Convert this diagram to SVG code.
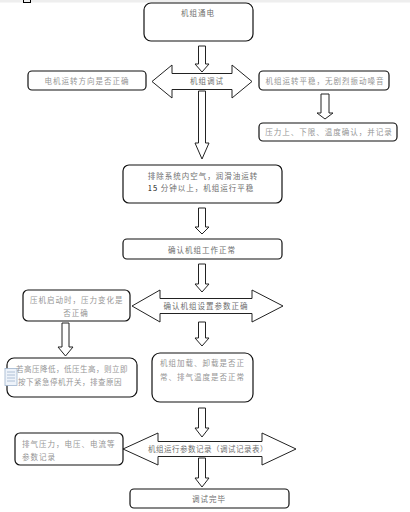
<svg xmlns="http://www.w3.org/2000/svg" width="410" height="512" viewBox="0 0 410 512">
<style>
.box{fill:#fff;stroke:#111;stroke-width:1.2}
.arr{fill:#fff;stroke:#222;stroke-width:1}
text{font-family:"Noto Sans CJK SC","Liberation Sans",sans-serif;font-size:7.5px;letter-spacing:1px}
.c{fill:#6e6e6e;text-anchor:middle}
.s{fill:#959595}
.sm{fill:#959595;text-anchor:middle}
.t{letter-spacing:0.5px}
</style>
<rect x="0" y="0" width="410" height="2.5" fill="#eeeeee"/>
<rect x="23.5" y="-1" width="7" height="3.5" fill="none" stroke="#000" stroke-width="1"/>
<g id="connectors">
<path class="arr" d="M198.5,46 H205.5 V64 H209 L202,72 L195,64 H198.5 Z"/>
<path class="arr" d="M198.5,91 H205.5 V143 H209 L202,159 L195,143 H198.5 Z"/>
<path class="arr" d="M321,94 H329 V113 H333 L325,119 L317,113 H321 Z"/>
<path class="arr" d="M198.5,208 H205.5 V227 H209 L202,234 L195,227 H198.5 Z"/>
<path class="arr" d="M198.5,264 H205.5 V284 H209 L202,292 L195,284 H198.5 Z"/>
<path class="arr" d="M198.5,322 H205.5 V338 H209 L202,346 L195,338 H198.5 Z"/>
<path class="arr" d="M62,323 H69 V347 H73 L65.5,356 L58,347 H62 Z"/>
<path class="arr" d="M198.5,408 H205.5 V428 H209 L202,437 L195,428 H198.5 Z"/>
<path class="arr" d="M198.5,458 H205.5 V478 H209 L202,487 L195,478 H198.5 Z"/>
</g>
<g id="n1"><rect class="box" x="144" y="3" width="109" height="38" rx="7"/><text class="c" x="198" y="16">机组通电</text></g>
<g id="n2"><path class="arr" d="M152,81.5 L172,65 V73.5 H232 V65 L252,81.5 L232,98 V89.5 H172 V98 Z"/><text class="c" x="207" y="84">机组调试</text></g>
<g id="n3"><rect class="box" x="28" y="71" width="118" height="19" rx="4"/><text class="sm" x="87" y="83.5">电机运转方向是否正确</text></g>
<g id="n4"><rect class="box" x="259" y="71" width="130" height="19" rx="4"/><text class="sm" x="325" y="83.5">机组运转平稳，无剧烈振动噪音</text></g>
<g id="n5"><rect class="box" x="259" y="123" width="138" height="18" rx="4"/><text class="sm" x="329" y="135">压力上、下限、温度确认，并记录</text></g>
<g id="n6"><rect class="box" x="123" y="165" width="159" height="38" rx="6"/><text class="c" x="203" y="179">排除系统内空气，润滑油运转</text><text class="c" x="201" y="191"><tspan fill="#111">15</tspan> 分钟以上，机组运行平稳</text></g>
<g id="n7"><rect class="box" x="123" y="239" width="159" height="20" rx="4"/><text class="c" x="202" y="252.5">确认机组工作正常</text></g>
<g id="n8"><path class="arr" d="M132,306 L160,290 V298.5 H252 V290 L283,306 L252,322 V313.5 H160 V322 Z"/><text class="c" x="206" y="308.5">确认机组设置参数正确</text></g>
<g id="n9"><rect class="box" x="23" y="290" width="107" height="31" rx="5"/><text class="s" x="30" y="303">压机启动时，压力变化是</text><text class="sm" x="76" y="315.5">否正确</text></g>
<g id="n10"><rect class="box" x="7" y="358" width="130" height="39" rx="7"/><text class="s t" x="16" y="371.5">若高压降低，低压生高，则立即</text><text class="s t" x="18" y="385">按下紧急停机开关，排查原因</text>
<g fill="none" stroke="#9fb3cc" stroke-width="0.8"><rect x="5" y="368.5" width="12" height="17" fill="#eef3fa"/><path d="M7,372 H15 M7,375 H15 M7,378 H15 M7,381 H15"/></g></g>
<g id="n11"><rect class="box" x="152" y="353" width="101" height="49" rx="8"/><text class="s" x="160" y="366">机组加载、卸载是否正</text><text class="s" x="160" y="379.5">常、排气温度是否正常</text></g>
<g id="n12"><path class="arr" d="M123,449 L158,433 V441.5 H262 V433 L296,449 L262,465 V456.5 H158 V465 Z"/><text class="c t" x="208" y="452">机组运行参数记录（调试记录表）</text></g>
<g id="n13"><rect class="box" x="15" y="433" width="108" height="32" rx="5"/><text class="s" x="22" y="447">排气压力，电压、电流等</text><text class="s" x="22" y="460">参数记录</text></g>
<g id="n14"><rect class="box" x="130" y="489" width="159" height="19" rx="4"/><text class="c" x="209" y="501.5">调试完毕</text></g>
</svg>
